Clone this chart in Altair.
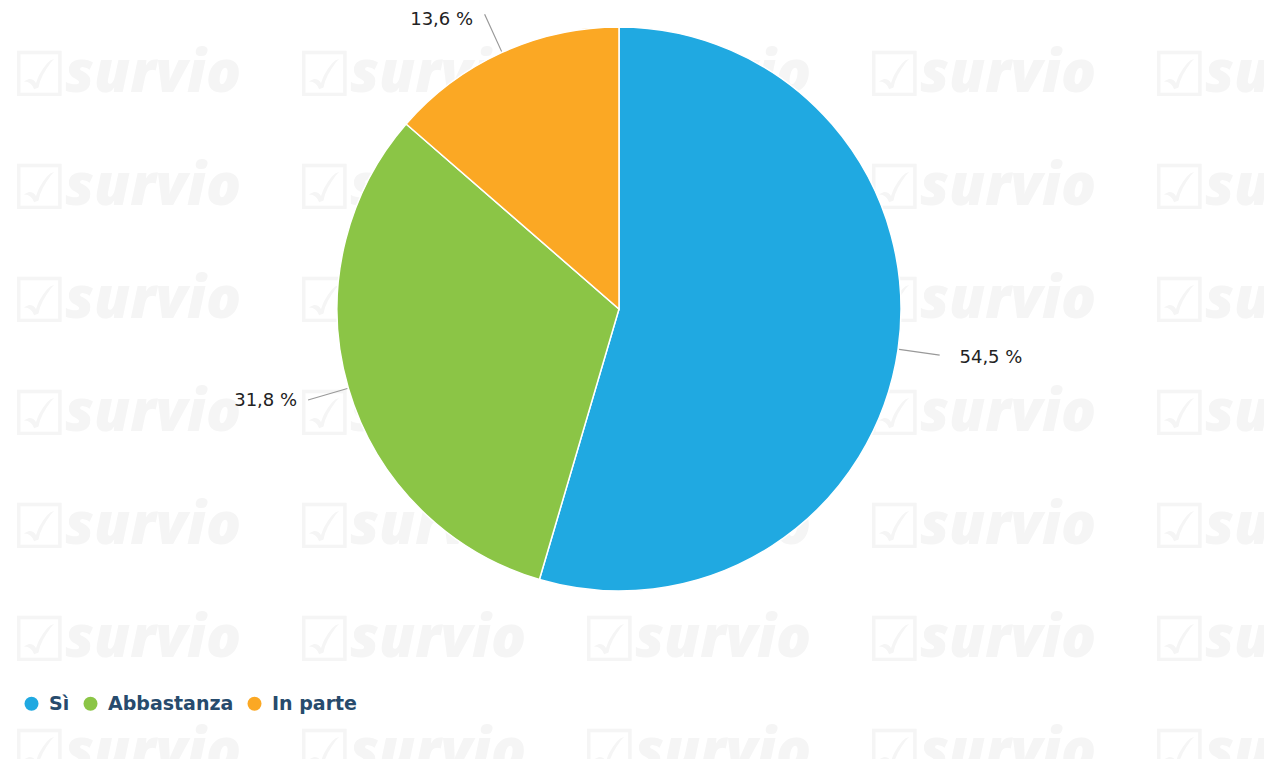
import altair as alt
import pandas as pd

# ---- data ----
categories = ["Sì", "Abbastanza", "In parte"]
values = [54.5, 31.8, 13.6]
labels = ["54,5 %", "31,8 %", "13,6 %"]
colors = ["#20a9e1", "#8bc546", "#fba824"]

wm_cols = [0, 1, 2, 3, 4]
wm_rows = [0, 1, 2, 3, 4, 5, 6]

total = sum(values)
starts = []
acc = 0.0
for v in values:
    starts.append(acc)
    acc += v

df = pd.DataFrame({
    "cat": categories,
    "value": values,
    "label": labels,
    "start": starts,
    "end": [s + v for s, v in zip(starts, values)],
    "mid": [s + v / 2 for s, v in zip(starts, values)],
    "idx": list(range(len(categories))),
})

wm = pd.DataFrame([{"c": c, "r": r} for c in wm_cols for r in wm_rows])

W, H = 1256, 751
CX, CY = 611, 301
R = 282

theta_scale = alt.Scale(domain=[0, total], range=[0, 6.283185307179586])

# ---- watermark ----
wx = alt.X("c:Q", scale=alt.Scale(domain=[0, 4], range=[57, 1197]), axis=None)
wy = alt.Y("r:Q", scale=alt.Scale(domain=[0, 6], range=[84, 762]), axis=None)

wm_text = alt.Chart(wm).mark_text(
    text="survio", font="Open Sans", fontSize=58, fontStyle="italic",
    fontWeight=800, color="#f5f5f5", align="left", baseline="alphabetic"
).encode(x=wx, y=wy)

wm_icon = alt.Chart(wm).mark_text(
    text="☑", font="DejaVu Sans", fontSize=62, fontWeight="bold",
    color="#f5f5f5", align="right", baseline="alphabetic", dx=2, dy=4
).encode(x=wx, y=wy)

# ---- pie ----
pie = alt.Chart(df).mark_arc(stroke="white", strokeWidth=1.5, radius=R).encode(
    theta=alt.Theta("start:Q", scale=theta_scale),
    theta2="end:Q",
    color=alt.Color(
        "cat:N",
        scale=alt.Scale(domain=categories, range=colors),
        legend=alt.Legend(
            title=None, orient="none", legendX=14, legendY=686,
            direction="horizontal", symbolType="circle", symbolSize=196,
            symbolStrokeWidth=0, labelFont="DejaVu Sans", labelFontSize=19,
            labelFontWeight="bold", labelColor="#274b6d", labelOffset=8,
            columnPadding=11,
        ),
    ),
    x=alt.value(CX),
    y=alt.value(CY),
)

# ---- leader lines ----
leaders = alt.Chart(df).transform_calculate(
    t1="datum.mid - 0.03", t2="datum.mid + 0.03"
).mark_arc(radius=R + 1, radius2=324, color="#999999").encode(
    theta=alt.Theta("t1:Q", scale=theta_scale),
    theta2="t2:Q",
    x=alt.value(CX),
    y=alt.value(CY),
)


# ---- labels ----
def label_layer(cat, radius, align, dx):
    return alt.Chart(df).transform_filter(
        alt.datum.cat == cat
    ).mark_text(
        radius=radius, align=align, baseline="middle", font="DejaVu Sans",
        fontSize=18, color="#222222", dx=dx
    ).encode(
        theta=alt.Theta("mid:Q", scale=theta_scale),
        text="label:N",
        x=alt.value(CX),
        y=alt.value(CY),
    )


lab_a = label_layer(categories[0], 344, "left", 0)
lab_b = label_layer(categories[1], 326, "right", -9)
lab_c = label_layer(categories[2], 318, "right", -14)

chart = alt.layer(wm_text, wm_icon, pie, leaders, lab_a, lab_b, lab_c).properties(
    width=W, height=H, padding=0,
    autosize=alt.AutoSizeParams(type="none"),
    background="white",
).configure_view(stroke=None)

chart.save("out.html", embed_options={"renderer": "svg", "actions": False})
